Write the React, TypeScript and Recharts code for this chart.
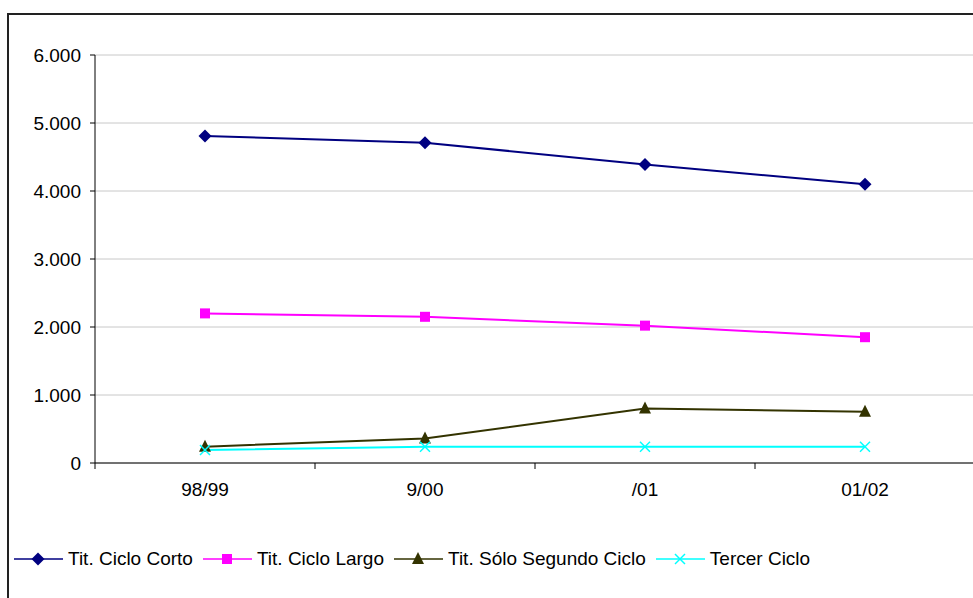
import React from 'react';
import { LineChart, Line, XAxis, YAxis, CartesianGrid, Legend } from 'recharts';

const categories = ['98/99', '9/00', '/01', '01/02'];
const cicloCorto = [4810, 4710, 4390, 4100];
const cicloLargo = [2200, 2150, 2020, 1850];
const soloSegundo = [240, 360, 800, 755];
const tercerCiclo = [190, 240, 240, 240];
const yTicks = [0, 1000, 2000, 3000, 4000, 5000, 6000];

const data = categories.map((cat, i) => ({
  cat,
  corto: cicloCorto[i],
  largo: cicloLargo[i],
  segundo: soloSegundo[i],
  tercer: tercerCiclo[i],
}));

const FONT = 'Liberation Sans, Arial, sans-serif';
const HALF_BAND = 110;
const LABEL_GAP = 20;

const fmt = (v: number) => v.toLocaleString('de-DE');

type MarkerKind = 'diamond' | 'square' | 'triangle' | 'x';

function Marker({ kind, cx, cy, color }: { kind: MarkerKind; cx: number; cy: number; color: string }) {
  if (kind === 'diamond') {
    return <polygon points={`${cx},${cy - 6.5} ${cx + 6.5},${cy} ${cx},${cy + 6.5} ${cx - 6.5},${cy}`} fill={color} />;
  }
  if (kind === 'square') {
    return <rect x={cx - 5} y={cy - 5} width={10} height={10} fill={color} />;
  }
  if (kind === 'triangle') {
    return <polygon points={`${cx},${cy - 7} ${cx + 6},${cy + 5} ${cx - 6},${cy + 5}`} fill={color} />;
  }
  return (
    <g stroke={color} strokeWidth={1.5}>
      <line x1={cx - 5} y1={cy - 5} x2={cx + 5} y2={cy + 5} />
      <line x1={cx - 5} y1={cy + 5} x2={cx + 5} y2={cy - 5} />
    </g>
  );
}

const series: { key: string; name: string; color: string; kind: MarkerKind }[] = [
  { key: 'corto', name: 'Tit. Ciclo Corto', color: '#000080', kind: 'diamond' },
  { key: 'largo', name: 'Tit. Ciclo Largo', color: '#FF00FF', kind: 'square' },
  { key: 'segundo', name: 'Tit. Sólo Segundo Ciclo', color: '#333300', kind: 'triangle' },
  { key: 'tercer', name: 'Tercer Ciclo', color: '#00FFFF', kind: 'x' },
];

function makeDot(kind: MarkerKind, color: string) {
  return (props: any) => {
    const { cx, cy, index } = props;
    if (cx == null || cy == null) return <g key={index} />;
    return <Marker key={index} kind={kind} cx={cx} cy={cy} color={color} />;
  };
}

// category label plus the Excel-style tick mark on the band boundary to its left
function CategoryTick(props: any) {
  const { x, y, payload } = props;
  const axisY = y - LABEL_GAP;
  return (
    <g>
      <line x1={x - HALF_BAND} y1={axisY} x2={x - HALF_BAND} y2={axisY + 6} stroke="#000" />
      <text x={x} y={y} dy="0.71em" textAnchor="middle" fill="#000" fontSize={19} fontFamily={FONT}>
        {payload.value}
      </text>
    </g>
  );
}

function LegendContent() {
  return (
    <div style={{ display: 'flex', alignItems: 'center', fontFamily: FONT, fontSize: 19, color: '#000', whiteSpace: 'nowrap' }}>
      {series.map((s) => (
        <div key={s.key} style={{ display: 'flex', alignItems: 'center', marginRight: 10 }}>
          <svg width={49} height={16} style={{ marginRight: 5 }}>
            <line x1={0} y1={8} x2={49} y2={8} stroke={s.color} strokeWidth={1.5} />
            <Marker kind={s.kind} cx={24} cy={8} color={s.color} />
          </svg>
          <span>{s.name}</span>
        </div>
      ))}
    </div>
  );
}

export default function App() {
  return (
    <div style={{ position: 'absolute', left: 0, top: 0, width: 973, height: 598, overflow: 'hidden', background: '#fff' }}>
      <div
        style={{
          position: 'absolute',
          left: 7,
          top: 13,
          width: 1000,
          height: 700,
          border: '2px solid #222',
          boxSizing: 'border-box',
        }}
      />
      <div style={{ position: 'absolute', left: 0, top: 0 }}>
        <LineChart
          width={980}
          height={598}
          data={data}
          margin={{ top: 55, right: 5, bottom: 95, left: 0 }}
          style={{ fontFamily: FONT }}
        >
          <CartesianGrid horizontal vertical={false} stroke="#c8c8c8" />
          <XAxis
            dataKey="cat"
            padding={{ left: HALF_BAND, right: HALF_BAND }}
            tickLine={false}
            tickSize={0}
            tickMargin={LABEL_GAP}
            axisLine={{ stroke: '#000' }}
            tick={<CategoryTick />}
            interval={0}
            height={40}
          />
          <YAxis
            domain={[0, 6000]}
            ticks={yTicks}
            tickFormatter={fmt}
            width={95}
            tickSize={5}
            tickMargin={9}
            axisLine={{ stroke: '#000' }}
            tickLine={{ stroke: '#000' }}
            tick={{ fill: '#000', fontSize: 19, fontFamily: FONT }}
          />
          <Legend
            layout="horizontal"
            verticalAlign="middle"
            align="center"
            content={<LegendContent />}
            wrapperStyle={{ left: 14, top: 548, width: 960 }}
          />
          {series.map((s) => (
            <Line
              key={s.key}
              type="linear"
              dataKey={s.key}
              name={s.name}
              stroke={s.color}
              strokeWidth={2}
              dot={makeDot(s.kind, s.color)}
              activeDot={false}
              isAnimationActive={false}
            />
          ))}
        </LineChart>
      </div>
    </div>
  );
}
